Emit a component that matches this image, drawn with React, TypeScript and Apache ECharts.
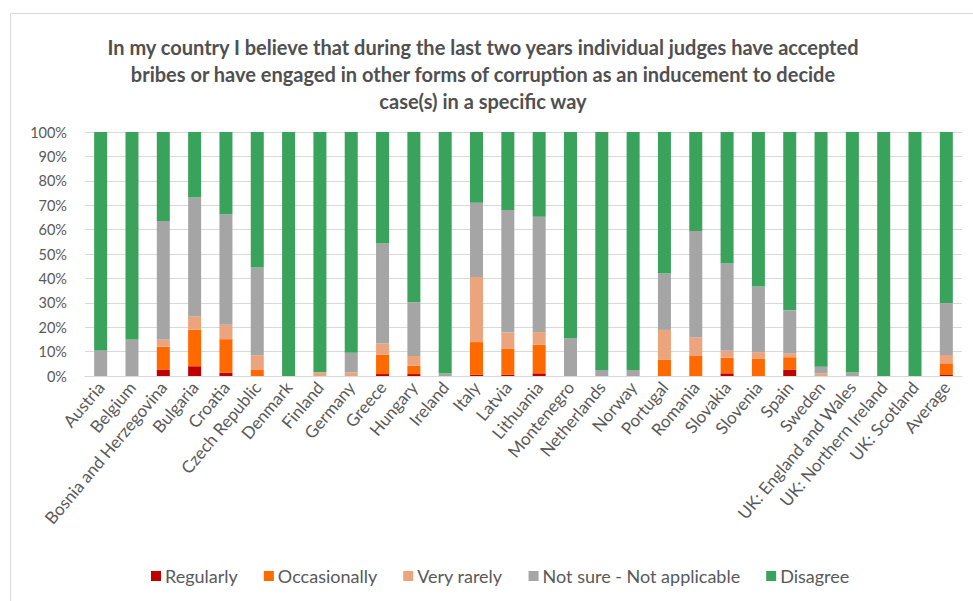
import React, { useEffect, useRef } from "react";
import * as echarts from "echarts";

const categories = [
  "Austria", "Belgium", "Bosnia and Herzegovina", "Bulgaria", "Croatia", "Czech Republic",
  "Denmark", "Finland", "Germany", "Greece", "Hungary", "Ireland", "Italy", "Latvia",
  "Lithuania", "Montenegro", "Netherlands", "Norway", "Portugal", "Romania", "Slovakia",
  "Slovenia", "Spain", "Sweden", "UK: England and Wales", "UK: Northern Ireland",
  "UK: Scotland", "Average",
];

const regularly = [0, 0, 2.5, 4, 1.4, 0, 0, 0, 0, 0.8, 0.8, 0, 0.5, 0.6, 1.1, 0, 0, 0, 0, 0, 1.1, 0, 2.5, 0, 0, 0, 0, 0.4];
const occasionally = [0, 0, 9.5, 15, 13.7, 2.5, 0, 0, 0, 8, 3.4, 0, 13.4, 10.5, 11.7, 0, 0, 0, 6.6, 8.2, 6.4, 7, 5.2, 0, 0, 0, 0, 4.8];
const veryRarely = [0, 0, 3, 5.5, 5.9, 6, 0, 1.5, 1.5, 4.5, 4, 0, 26.7, 6.7, 5.2, 0, 0, 0, 12.3, 7.6, 2.8, 2.8, 1.6, 1, 0, 0, 0, 3.4];
const notSure = [10.5, 15, 48.5, 48.7, 45.3, 36, 0, 0, 8, 41, 22, 1, 30.4, 50.2, 47.3, 15.5, 2.5, 2.5, 23.1, 43.6, 35.8, 26.9, 17.6, 2.8, 1.4, 0, 0, 21.3];
const disagree = [89.5, 85, 36.5, 26.8, 33.7, 55.5, 100, 98.5, 90.5, 45.7, 69.8, 99, 29, 32, 34.7, 84.5, 97.5, 97.5, 58, 40.6, 53.9, 63.3, 73.1, 96.2, 98.6, 100, 100, 70.1];

const seriesNames = ["Regularly", "Occasionally", "Very rarely", "Not sure - Not applicable", "Disagree"];
const seriesColors = ["#C00000", "#FF6A00", "#EBA47C", "#A5A5A5", "#3AA35B"];

const title =
  "In my country I believe that during the last two years individual judges have accepted\nbribes or have engaged in other forms of corruption as an inducement to decide\ncase(s) in a specific way";

const FONT = "Lato, 'Noto Sans', sans-serif";

export default function App() {
  const ref = useRef<HTMLDivElement>(null);
  useEffect(() => {
    if (!ref.current) return;
    const chart = echarts.init(ref.current, undefined, { renderer: "svg" });
    const dataSets = [regularly, occasionally, veryRarely, notSure, disagree];
    chart.setOption({
      animation: false,
      backgroundColor: "#ffffff",
      textStyle: { fontFamily: FONT },
      graphic: [
        {
          type: "rect",
          shape: { x: 10.5, y: 13.5, width: 1000, height: 700 },
          style: { fill: "none", stroke: "#d9d9d9", lineWidth: 1 },
          silent: true,
        },
        {
          type: "text",
          x: 483,
          y: 33,
          silent: true,
          style: {
            text: title,
            align: "center",
            verticalAlign: "top",
            fontFamily: FONT,
            fontSize: 20,
            fontWeight: "bold",
            fill: "#505050",
            lineHeight: 27,
          },
        },
      ],
      legend: {
        bottom: 11,
        left: 146,
        itemWidth: 10,
        itemHeight: 10,
        itemGap: 26,
        icon: "rect",
        textStyle: { fontFamily: FONT, fontSize: 18, color: "#595959", padding: [0, 0, 0, -1] },
        data: seriesNames,
      },
      grid: { left: 85, right: 11, top: 132, bottom: 225, containLabel: false },
      xAxis: {
        type: "category",
        data: categories,
        axisLine: { show: true, lineStyle: { color: "#d9d9d9" } },
        axisTick: { show: false },
        axisLabel: {
          rotate: 50,
          interval: 0,
          margin: 8,
          fontFamily: FONT,
          fontSize: 17,
          color: "#595959",
        },
      },
      yAxis: {
        type: "value",
        min: 0,
        max: 100,
        interval: 10,
        axisLine: { show: false },
        axisTick: { show: false },
        splitLine: { lineStyle: { color: "#d9d9d9" } },
        axisLabel: {
          formatter: "{value}%",
          margin: 18,
          fontFamily: FONT,
          fontSize: 14.5,
          color: "#595959",
        },
      },
      series: seriesNames.map((name, i) => ({
        name,
        type: "bar",
        stack: "total",
        barWidth: 13,
        itemStyle: { color: seriesColors[i] },
        data: dataSets[i],
      })),
    });
    return () => chart.dispose();
  }, []);
  return (
    <div
      ref={ref}
      style={{ position: "fixed", left: 0, top: 0, width: 973, height: 601 }}
    />
  );
}
